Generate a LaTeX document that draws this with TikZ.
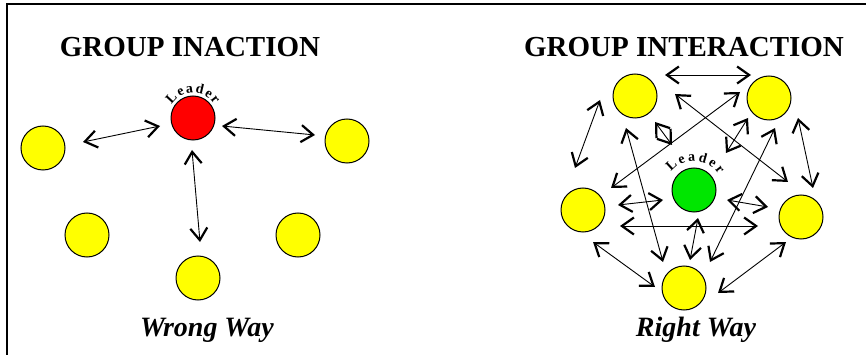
\documentclass[tikz,border=0pt]{standalone}
\usepackage{fontspec}
\setmainfont{Liberation Serif}
\usetikzlibrary{arrows.meta,calc,decorations.text}
\definecolor{ylw}{RGB}{255,255,0}
\definecolor{rd}{RGB}{255,0,0}
\definecolor{grn}{RGB}{0,230,0}
\tikzset{
  person/.style={circle,draw=black,line width=1pt,minimum size=44pt,inner sep=0pt},
  member/.style={person,fill=ylw},
  barb/.tip={Straight Barb[length=12pt,width=17pt,line width=2.2pt]},
  arr/.style={line width=0.9pt,barb-barb},
  title/.style={font=\bfseries\fontsize{29}{29}\selectfont,inner sep=0pt},
  caption/.style={font=\bfseries\itshape\fontsize{28}{28}\selectfont,inner sep=0pt},
  leadertext/.style={decorate,decoration={text along path,text={|\bfseries\fontsize{14}{14}\selectfont|Leader},text align=fit to path}}
}
\begin{document}
\begin{tikzpicture}[x=1pt,y=1pt]
\useasboundingbox (0,0) rectangle (866,-355);
\fill[white] (0,0) rectangle (866,-355);
\draw[line width=2pt] (7,-355) -- (7,-4) -- (866,-4);

% ---------- left panel ----------
\node[title] (t1) at (190,-47) {GROUP INACTION};
\node[caption] (c1) at (207,-330) {Wrong Way};
\node[person,fill=rd] (red) at (193,-118) {};
\node[member] (m1) at (43,-148) {};
\node[member] (m2) at (347,-141) {};
\node[member] (m3) at (87,-235) {};
\node[member] (m4) at (298,-235) {};
\node[member] (m5) at (198,-278) {};
\path[leadertext] ($(red)+(148:25)$) arc[start angle=148,end angle=32,radius=25];

\draw[arr] ($(m1)+(40,6)$) -- ($(red)+(-33,-8)$);
\draw[arr] ($(red)+(29,-8)$) -- ($(m2)+(-32,6)$);
\draw[arr] ($(red)+(-1,-32)$) -- ($(m5)+(2,36)$);

% ---------- right panel ----------
\node[title] (t2) at (684,-47) {GROUP INTERACTION};
\node[caption] (c2) at (696,-330) {Right Way};
\node[member] (tl) at (635,-96) {};
\node[member] (tr) at (769,-98) {};
\node[member] (l) at (583,-210) {};
\node[member] (r) at (801,-217) {};
\node[member] (b) at (684,-288) {};
\node[person,fill=grn] (g) at (694,-190) {};
\path[leadertext] ($(g)+(142:29)$) arc[start angle=142,end angle=32,radius=29];

\draw[arr] ($(tl)+(30,21)$) -- ($(tr)+(-18,23)$);
\draw[arr] ($(tl)+(-35,-4)$) -- ($(l)+(-8,42)$);
\draw[arr] ($(tr)+(29,-20)$) -- ($(r)+(12,29)$);
\draw[arr] ($(l)+(10,-32)$) -- ($(b)+(-29,1)$);
\draw[arr] ($(r)+(-15,-25)$) -- ($(b)+(34,-5)$);
\draw[arr] ($(tl)+(40,2)$) -- ($(r)+(-13,35)$);
\draw[arr] ($(tr)+(-29,6)$) -- ($(l)+(28,22)$);
\draw[arr] ($(tl)+(-9,-32)$) -- ($(b)+(-21,26)$);
\draw[arr] ($(tr)+(6,-30)$) -- ($(b)+(26,26)$);
\draw[arr] ($(l)+(37,-16)$) -- ($(r)+(-43,-9)$);
\draw[arr] ($(tl)+(20,-26)$) -- ($(g)+(-22,45)$);
\draw[arr] ($(tr)+(-21,-20)$) -- ($(g)+(32,37)$);
\draw[arr] ($(l)+(35,5)$) -- ($(g)+(-31,-10)$);
\draw[arr] ($(g)+(33,-10)$) -- ($(r)+(-33,10)$);
\draw[arr] ($(g)+(4,-28)$) -- ($(b)+(6,28)$);
\end{tikzpicture}
\end{document}
